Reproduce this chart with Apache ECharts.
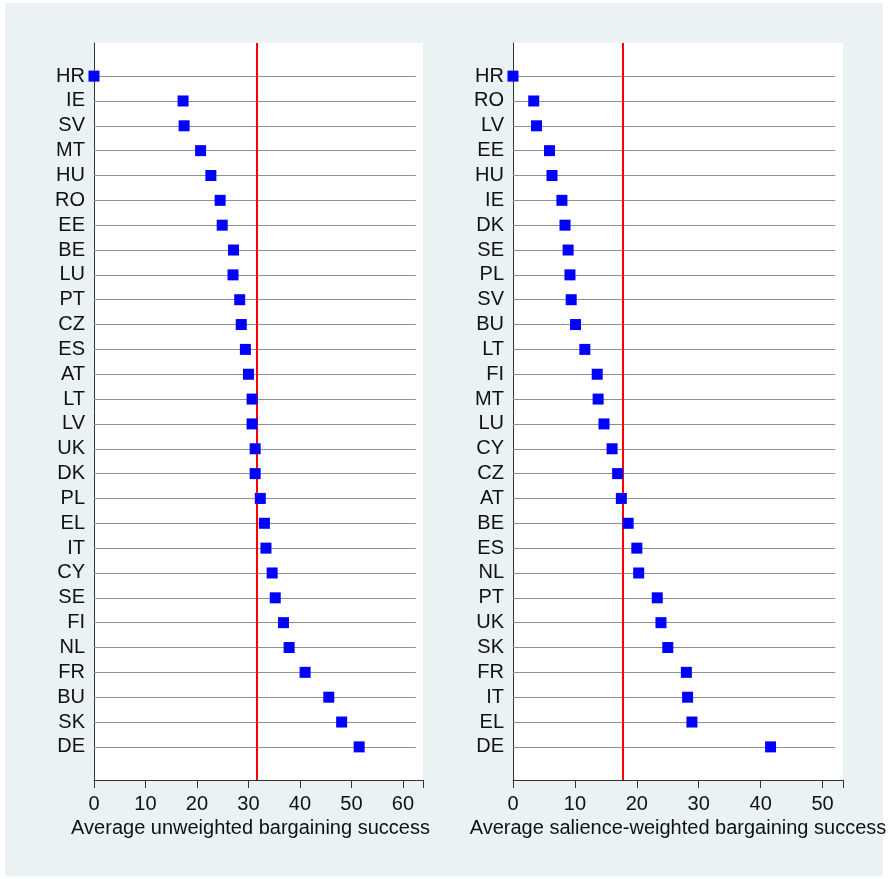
<!DOCTYPE html>
<html>
<head>
<meta charset="utf-8">
<script src="https://cdn.jsdelivr.net/npm/echarts@6/dist/echarts.min.js"></script>
<style>
html,body{margin:0;padding:0;background:#fff;}
#chart{width:893px;height:879px;}
</style>
</head>
<body>
<div id="chart"></div>
<script>
// ---- Data ----
const categoriesA = ['HR','IE','SV','MT','HU','RO','EE','BE','LU','PT','CZ','ES','AT','LT','LV','UK','DK','PL','EL','IT','CY','SE','FI','NL','FR','BU','SK','DE'];
const valuesA = [0,17.3,17.5,20.7,22.7,24.5,24.9,27.1,27.0,28.3,28.6,29.4,30.0,30.7,30.7,31.3,31.3,32.3,33.1,33.4,34.6,35.2,36.8,37.9,41.0,45.6,48.1,51.5];
const meanA = 31.6;
const titleA = 'Average unweighted bargaining success';

const categoriesB = ['HR','RO','LV','EE','HU','IE','DK','SE','PL','SV','BU','LT','FI','MT','LU','CY','CZ','AT','BE','ES','NL','PT','UK','SK','FR','IT','EL','DE'];
const valuesB = [0,3.35,3.8,5.9,6.3,7.9,8.4,8.9,9.2,9.4,10.1,11.6,13.6,13.75,14.7,16.0,16.9,17.5,18.6,20.0,20.3,23.3,23.9,25.0,28.0,28.2,28.9,41.6];
const meanB = 17.7;
const titleB = 'Average salience-weighted bargaining success';

const axisMaxA = 63.9, gridEndA = 62.5;
const axisMaxB = 53.3, gridEndB = 52.05;

// ---- Chart ----
const FONT = "'Liberation Sans', Arial, Helvetica, sans-serif";
const chart = echarts.init(document.getElementById('chart'), null, {renderer: 'canvas'});

function yAxisFor(cats, gi) {
  const idx = cats.map((_, i) => i);
  return {
    type: 'value', gridIndex: gi, inverse: true,
    min: -4/3, max: cats.length - 1 + 4/3,
    axisLine: {show: true, onZero: false, lineStyle: {color: '#333', width: 1}},
    axisTick: {show: false},
    splitLine: {show: false},
    axisLabel: {
      customValues: idx,
      formatter: v => cats[Math.round(v)] || '',
      fontSize: 20, color: '#111', fontFamily: FONT, margin: 9
    }
  };
}
function xAxisFor(max, name, gi, pad) {
  return {
    type: 'value', gridIndex: gi, min: 0, max: max, interval: 10,
    name: name, nameLocation: 'middle', nameGap: 35,
    nameTextStyle: {fontSize: 20, color: '#111', fontFamily: FONT, padding: pad},
    axisLine: {show: true, onZero: false, lineStyle: {color: '#333', width: 1}},
    axisTick: {show: true, length: 8, lineStyle: {color: '#333'}},
    splitLine: {show: false},
    axisLabel: {fontSize: 20, color: '#111', fontFamily: FONT, margin: 14,
      formatter: v => (v > max - 1 ? '' : String(v))}
  };
}
function seriesFor(vals, cats, mean, gridEnd, gi) {
  return [
    {
      type: 'line', xAxisIndex: gi, yAxisIndex: gi, data: [], silent: true, z: 1,
      markLine: {
        silent: true, symbol: 'none', animation: false,
        label: {show: false},
        lineStyle: {color: '#909090', width: 1, type: 'solid'},
        data: cats.map((c, i) => [{coord: [0, i]}, {coord: [gridEnd, i]}])
      }
    },
    {
      type: 'line', xAxisIndex: gi, yAxisIndex: gi, data: [], silent: true, z: 2,
      markLine: {
        silent: true, symbol: 'none', animation: false,
        label: {show: false},
        lineStyle: {color: '#ff0000', width: 2, type: 'solid'},
        data: [{xAxis: mean}]
      }
    },
    {
      type: 'scatter', xAxisIndex: gi, yAxisIndex: gi, z: 5,
      symbol: 'rect', symbolSize: 11,
      itemStyle: {color: '#0000ff', opacity: 1},
      data: vals.map((v, i) => [v, i])
    }
  ];
}

chart.setOption({
  animation: false,
  backgroundColor: '#ffffff',
  graphic: [{
    type: 'rect', z: -10, silent: true,
    shape: {x: 5, y: 3, width: 878, height: 873},
    style: {fill: '#eaf2f3'}
  }],
  grid: [
    {left: 94, right: 893 - 423, top: 43, bottom: 879 - 780, show: true, backgroundColor: '#ffffff', borderWidth: 0, containLabel: false},
    {left: 513, right: 893 - 843, top: 43, bottom: 879 - 780, show: true, backgroundColor: '#ffffff', borderWidth: 0, containLabel: false}
  ],
  xAxis: [xAxisFor(axisMaxA, titleA, 0, [0, 16, 0, 0]), xAxisFor(axisMaxB, titleB, 1, [0, 0, 0, 0])],
  yAxis: [yAxisFor(categoriesA, 0), yAxisFor(categoriesB, 1)],
  series: [].concat(
    seriesFor(valuesA, categoriesA, meanA, gridEndA, 0),
    seriesFor(valuesB, categoriesB, meanB, gridEndB, 1)
  )
});
</script>
</body>
</html>
